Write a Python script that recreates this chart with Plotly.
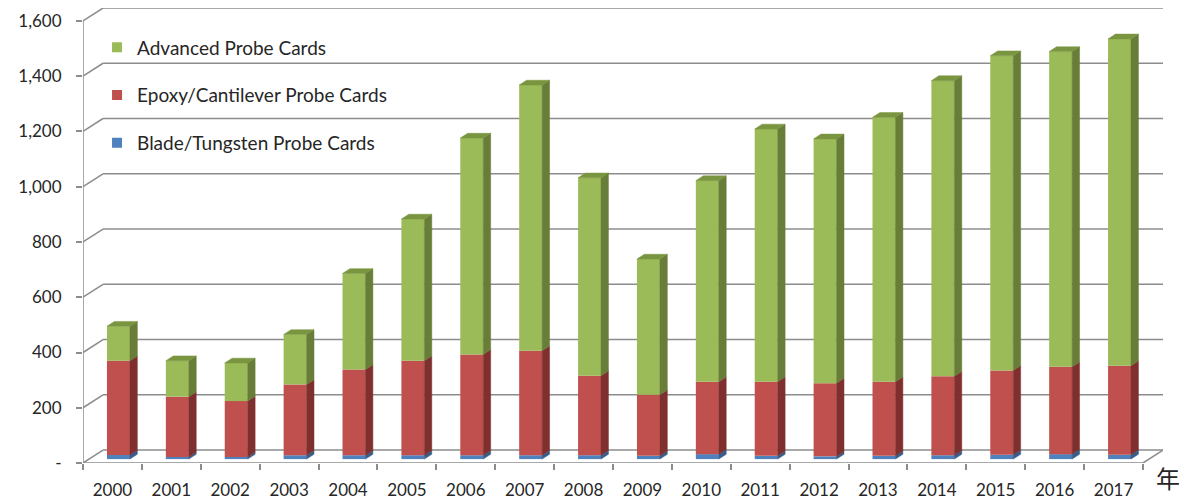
import plotly.graph_objects as go

years = [str(y) for y in range(2000, 2018)]
blade = [15, 8, 8, 14, 14, 14, 14, 14, 14, 12, 18, 12, 10, 12, 14, 16, 18, 16]
epoxy = [341, 218, 202, 256, 310, 342, 365, 378, 288, 221, 262, 268, 265, 268, 286, 305, 316, 322]
advanced = [125, 130, 138, 181, 348, 513, 783, 962, 716, 491, 728, 915, 884, 957, 1070, 1139, 1141, 1183]
y_ticks = [0, 200, 400, 600, 800, 1000, 1200, 1400, 1600]
y_ticktext = ["-", "200", "400", "600", "800", "1,000", "1,200", "1,400", "1,600"]

N = len(years)
DXC = 0.34      # depth shift (category units)
DYV = 47.0      # depth shift (value units)
F1, F2 = 0.30, 0.67
BW = 0.39
GRID = "#8C8C8C"
FONT = "#262626"

series = [
    ("Blade/Tungsten Probe Cards", blade, "#4F81BD", "#385D8A"),
    ("Epoxy/Cantilever Probe Cards", epoxy, "#C0504D", "#7F302E"),
    ("Advanced Probe Cards", advanced, "#9BBB59", "#677D38"),
]

fig = go.Figure()
centers = [i + 0.5 + F1 * DXC for i in range(N)]
d = F2 - F1
cum = [0] * N
for name, vals, c_front, c_side in series:
    base = [F1 * DYV + c for c in cum]
    fig.add_bar(x=centers, y=vals, base=base, width=BW, name=name,
                marker=dict(color=c_front, line=dict(width=0)), showlegend=False)
    xs, ys = [], []
    for i in range(N):
        xr = centers[i] + BW / 2
        y0 = base[i]
        y1 = base[i] + vals[i]
        xs += [xr, xr + d * DXC, xr + d * DXC, xr, xr, None]
        ys += [y0, y0 + d * DYV, y1 + d * DYV, y1, y0, None]
    fig.add_scatter(x=xs, y=ys, mode="lines", fill="toself", fillcolor=c_side,
                    line=dict(width=0.5, color=c_side), hoverinfo="skip", showlegend=False)
    cum = [c + v for c, v in zip(cum, vals)]

# top faces of the stacks
xs, ys = [], []
for i in range(N):
    xl = centers[i] - BW / 2
    xr = centers[i] + BW / 2
    t = F1 * DYV + cum[i]
    xs += [xl, xr, xr + d * DXC, xl + d * DXC, xl, None]
    ys += [t, t, t + d * DYV, t + d * DYV, t, None]
fig.add_scatter(x=xs, y=ys, mode="lines", fill="toself", fillcolor="#7A953F",
                line=dict(width=0.5, color="#7A953F"), hoverinfo="skip", showlegend=False)

# legend entries (top to bottom)
for gi, (name, vals, c_front, c_side) in enumerate(reversed(series)):
    fig.add_scatter(x=[None], y=[None], mode="markers", name=name, legendgroup=str(gi),
                    marker=dict(symbol="square", size=10, color=c_front))

# walls, gridlines, floor
shapes = []
for v in y_ticks:
    shapes.append(dict(type="line", xref="x", yref="y", x0=0, y0=v, x1=DXC, y1=v + DYV,
                       line=dict(color=GRID, width=1.5), layer="below"))
    shapes.append(dict(type="line", xref="x", yref="y", x0=DXC, y0=v + DYV, x1=N + DXC, y1=v + DYV,
                       line=dict(color=GRID, width=1.5), layer="below"))
shapes.append(dict(type="line", xref="x", yref="y", x0=0, y0=0, x1=N, y1=0,
                   line=dict(color=GRID, width=1.5), layer="below"))
shapes.append(dict(type="line", xref="x", yref="y", x0=N, y0=0, x1=N + DXC, y1=DYV,
                   line=dict(color=GRID, width=1.5), layer="below"))
shapes.append(dict(type="line", xref="x", yref="y", x0=0, y0=0, x1=0, y1=y_ticks[-1],
                   line=dict(color=GRID, width=1.5), layer="below"))

fig.update_layout(
    width=1179, height=495,
    margin=dict(l=75, r=24, t=0, b=40, pad=0, autoexpand=False),
    paper_bgcolor="white", plot_bgcolor="white",
    font=dict(family="Lato", size=17, color=FONT),
    barmode="overlay",
    shapes=shapes,
    showlegend=True,
    legend=dict(x=0.013, y=0.955, xanchor="left", yanchor="top",
                bgcolor="rgba(0,0,0,0)", borderwidth=0, traceorder="grouped",
                tracegroupgap=20, itemwidth=30, font=dict(size=19, color=FONT)),
    xaxis=dict(range=[0, N + DXC], tickvals=[i + 0.5 for i in range(N)], ticktext=years,
               ticks="", showgrid=False, zeroline=False, showline=False, automargin=False,
               ticklabelstandoff=15,
               minor=dict(ticks="outside", ticklen=6, tickcolor=GRID, tickwidth=1.5,
                          tick0=0, dtick=1, showgrid=False)),
    yaxis=dict(range=[0, y_ticks[-1] + DYV], tickvals=y_ticks, ticktext=y_ticktext,
               ticks="outside", ticklen=6, tickcolor=GRID, tickwidth=1.5, automargin=False,
               showgrid=False, zeroline=False, showline=False, ticklabelstandoff=11),
    annotations=[dict(text="年", xref="paper", yref="paper", x=1.0046, y=-0.031,
                      showarrow=False, xanchor="center", yanchor="middle",
                      font=dict(family="Noto Sans CJK SC", size=24, color=FONT))],
)

fig.write_html("out.html")
